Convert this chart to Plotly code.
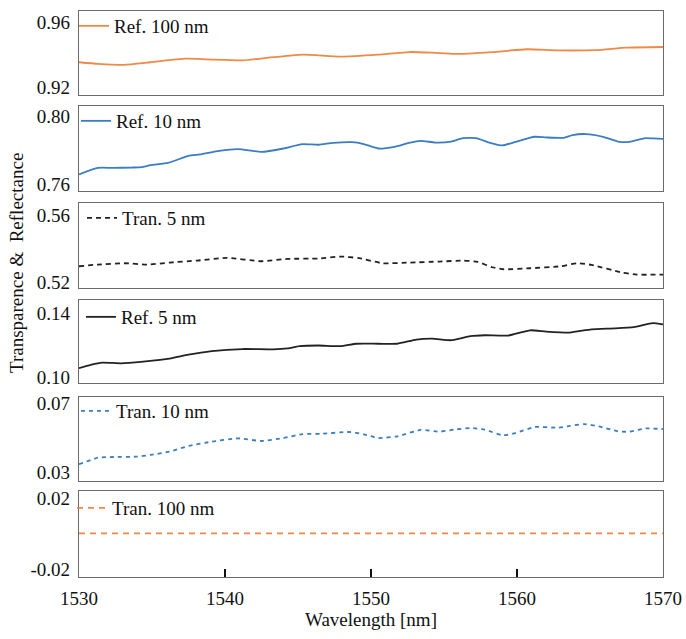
import plotly.graph_objects as go

# ---------------- data ----------------
wl_ref100 = [1530.0, 1531.3, 1533.1, 1534.9, 1537.3, 1538.8, 1541.2, 1543.3, 1545.3, 1547.9,
             1550.5, 1552.6, 1554.2, 1555.7, 1558.3, 1560.7, 1562.8, 1565.4, 1567.5, 1570.0]
ref100 = [0.9352, 0.9342, 0.9336, 0.9352, 0.9374, 0.9370, 0.9364, 0.9383, 0.9399, 0.9387,
          0.9399, 0.9415, 0.9411, 0.9403, 0.9415, 0.9432, 0.9425, 0.9427, 0.9442, 0.9446]

wl_ref10 = [1530.0, 1531.3, 1532.3, 1533.6, 1534.3, 1534.9, 1536.1, 1537.5, 1538.3, 1539.6,
            1540.9, 1542.5, 1544.0, 1545.3, 1546.4, 1547.4, 1548.7, 1549.5, 1550.5, 1551.6,
            1552.6, 1553.4, 1554.4, 1555.5, 1556.3, 1557.2, 1558.1, 1559.0, 1559.9, 1561.2,
            1562.0, 1563.2, 1563.8, 1564.7, 1565.9, 1566.9, 1567.7, 1568.8, 1569.3, 1570.0]
ref10 = [0.7657, 0.7695, 0.7695, 0.7697, 0.7699, 0.7711, 0.7724, 0.7766, 0.7774, 0.7795,
         0.7805, 0.7789, 0.7809, 0.7835, 0.7831, 0.7842, 0.7846, 0.7835, 0.7809, 0.7819,
         0.7842, 0.7854, 0.7844, 0.7850, 0.7870, 0.7870, 0.7844, 0.7827, 0.7848, 0.7878,
         0.7874, 0.7872, 0.7888, 0.7894, 0.7878, 0.7850, 0.7848, 0.7870, 0.7868, 0.7866]

wl_tran5 = [1530.0, 1531.3, 1533.1, 1534.7, 1536.2, 1538.1, 1540.1, 1542.5, 1544.3, 1546.4,
            1547.9, 1549.2, 1550.8, 1552.6, 1554.7, 1556.3, 1557.3, 1558.3, 1559.1, 1560.9,
            1563.0, 1564.1, 1565.1, 1567.2, 1568.2, 1570.0]
tran5 = [0.5294, 0.5304, 0.5312, 0.5304, 0.5316, 0.5328, 0.5344, 0.5324, 0.5338, 0.5340,
         0.5352, 0.5342, 0.5312, 0.5316, 0.5322, 0.5328, 0.5320, 0.5288, 0.5276, 0.5282,
         0.5294, 0.5312, 0.5302, 0.5256, 0.5244, 0.5244]

wl_ref5 = [1530.0, 1530.8, 1531.6, 1532.9, 1534.4, 1536.2, 1537.5, 1539.1, 1541.2, 1543.3,
           1544.3, 1545.1, 1546.4, 1547.9, 1549.0, 1550.5, 1551.8, 1553.1, 1554.2, 1555.5,
           1556.8, 1557.8, 1559.4, 1560.9, 1562.0, 1563.6, 1565.1, 1566.7, 1568.0, 1569.3, 1570.0]
ref5 = [0.1055, 0.1076, 0.1090, 0.1086, 0.1097, 0.1115, 0.1140, 0.1162, 0.1175, 0.1173,
        0.1179, 0.1193, 0.1197, 0.1193, 0.1208, 0.1208, 0.1208, 0.1234, 0.1240, 0.1230,
        0.1255, 0.1261, 0.1259, 0.1292, 0.1284, 0.1278, 0.1298, 0.1304, 0.1312, 0.1337, 0.1329]

wl_tran10 = [1530.0, 1531.3, 1532.3, 1533.9, 1534.9, 1536.2, 1537.5, 1539.1, 1540.9, 1542.5,
             1544.0, 1545.3, 1546.6, 1548.5, 1549.5, 1550.5, 1551.8, 1553.4, 1554.7, 1555.7,
             1556.8, 1557.8, 1559.0, 1559.9, 1561.2, 1562.8, 1563.6, 1564.6, 1565.6, 1566.9,
             1567.7, 1568.8, 1570.0]
tran10 = [0.0345, 0.0383, 0.0387, 0.0389, 0.0399, 0.0418, 0.0451, 0.0476, 0.0495, 0.0480,
          0.0497, 0.0520, 0.0522, 0.0532, 0.0519, 0.0497, 0.0507, 0.0544, 0.0534, 0.0546,
          0.0555, 0.0546, 0.0513, 0.0526, 0.0561, 0.0557, 0.0567, 0.0578, 0.0565, 0.0536,
          0.0534, 0.0553, 0.0549]

wl_tran100 = [1530.0, 1540.0, 1550.0, 1560.0, 1570.0]
tran100 = [0.0, 0.0, 0.0, 0.0, 0.0]

x_ticks = [1530, 1540, 1550, 1560, 1570]
y_tickvals = [[0.92, 0.96], [0.76, 0.80], [0.52, 0.56], [0.10, 0.14], [0.03, 0.07], [-0.02, 0.02]]
y_ticktext = [["0.92", "0.96"], ["0.76", "0.80"], ["0.52", "0.56"], ["0.10", "0.14"],
              ["0.03", "0.07"], ["-0.02", "0.02"]]
y_ranges = [[0.9150, 0.9668], [0.7559, 0.8059], [0.5164, 0.5672], [0.0963, 0.1481],
            [0.0248, 0.0735], [-0.0245, 0.0239]]

names = ["Ref. 100 nm", "Ref. 10 nm", "Tran. 5 nm", "Ref. 5 nm", "Tran. 10 nm", "Tran. 100 nm"]
xs = [wl_ref100, wl_ref10, wl_tran5, wl_ref5, wl_tran10, wl_tran100]
ys = [ref100, ref10, tran5, ref5, tran10, tran100]

# ---------------- style ----------------
ORANGE = "#EE8A48"
BLUE = "#3A7DC2"
colors = [ORANGE, BLUE, "#222222", "#222222", BLUE, ORANGE]
dashes = ["solid", "solid", "5px,4px", "solid", "4px,4px", "6px,5px"]
shapes_spline = [True, True, True, True, True, False]

W, H = 686, 639
panel_px = [(11, 95), (106, 191), (203, 288), (300, 383), (397, 481), (491, 577)]
legend_px = [26, 121, 218, 317, 411, 508]
legend_x_px = [74, 76, 82, 81, 76, 72]
x_dom = [79 / W, 663 / W]
FONT = "Times New Roman, Liberation Serif, DejaVu Serif, serif"
BORDER = "#6b6b6b"
TXT = "#111111"

fig = go.Figure()
layout = dict(
    width=W, height=H,
    margin=dict(l=0, r=0, t=0, b=0, autoexpand=False),
    paper_bgcolor="white", plot_bgcolor="white",
    font=dict(family=FONT, size=19, color=TXT),
    showlegend=True,
)

for i in range(6):
    k = "" if i == 0 else str(i + 1)
    leg = "legend" if i == 0 else "legend" + str(i + 1)
    fig.add_trace(go.Scatter(
        x=xs[i], y=ys[i], mode="lines", name=names[i],
        line=dict(color=colors[i], width=1.8, dash=dashes[i],
                  shape="spline" if shapes_spline[i] else "linear", smoothing=0.5),
        xaxis="x" + k, yaxis="y" + k, legend=leg,
    ))
    top, bot = panel_px[i]
    is_bottom = (i == 5)
    layout["xaxis" + k] = dict(
        domain=x_dom, anchor="y" + k, range=[1530, 1570], automargin=False,
        showline=True, mirror=True, linecolor=BORDER, linewidth=1.4,
        showgrid=False, zeroline=False,
        tickvals=x_ticks, ticktext=[str(v) for v in x_ticks],
        showticklabels=is_bottom,
        ticks="inside" if is_bottom else "", ticklen=8, tickwidth=2, tickcolor=TXT,
        ticklabelstandoff=4,
        tickfont=dict(family=FONT, size=19, color=TXT),
        title=dict(text="Wavelength [nm]" if is_bottom else "", standoff=2,
                   font=dict(family=FONT, size=19, color=TXT)),
    )
    layout["yaxis" + k] = dict(
        domain=[1 - bot / H, 1 - top / H], anchor="x" + k,
        range=y_ranges[i], automargin=False,
        showline=True, mirror=True, linecolor=BORDER, linewidth=1.4,
        showgrid=False, zeroline=False,
        tickvals=y_tickvals[i], ticktext=y_ticktext[i], ticks="",
        ticklabelstandoff=4,
        tickfont=dict(family=FONT, size=19, color=TXT),
    )
    layout[leg] = dict(
        x=legend_x_px[i] / W, y=1 - legend_px[i] / H,
        xanchor="left", yanchor="middle",
        bgcolor="rgba(0,0,0,0)", borderwidth=0,
        font=dict(family=FONT, size=19, color=TXT),
        itemwidth=30, tracegroupgap=0,
    )

layout["annotations"] = [dict(
    text="Transparence &  Reflectance", textangle=-90,
    x=17 / W, y=1 - 263 / H, xref="paper", yref="paper",
    xanchor="center", yanchor="middle", showarrow=False,
    font=dict(family=FONT, size=19, color=TXT),
)]

fig.update_layout(**layout)
fig.write_html(
    "out.html",
    config={"displayModeBar": False},
    post_script="document.body.style.margin='0';document.body.style.overflow='hidden';",
)
